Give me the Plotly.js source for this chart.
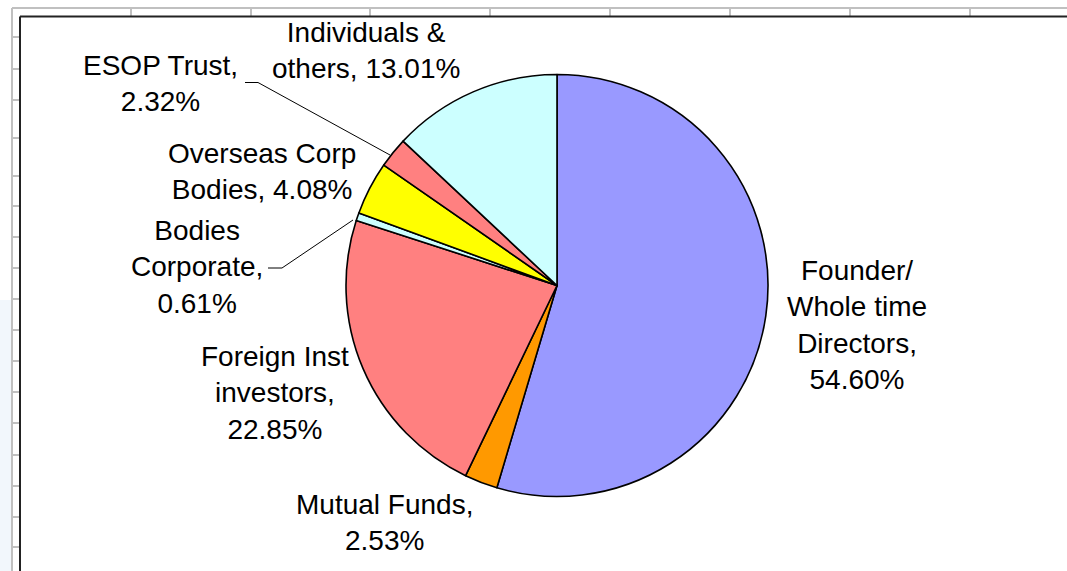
<!DOCTYPE html>
<html>
<head>
<meta charset="utf-8">
<script src="https://cdn.plot.ly/plotly-3.0.1.min.js"></script>
<style>html,body{margin:0;padding:0;background:#fff;}#chart{width:1067px;height:571px;}</style>
</head>
<body>
<div id="chart"></div>
<script>
// ---- data ----
const categories = ["Founder/<br>Whole time<br>Directors", "Mutual Funds", "Foreign Inst<br>investors", "Bodies<br>Corporate", "Overseas Corp<br>Bodies", "ESOP Trust", "Individuals &<br>others"];
const shares = [54.60, 2.53, 22.85, 0.61, 4.08, 2.32, 13.01];
const sliceColors = ["#9999FF", "#FF9900", "#FF8080", "#CCFFFF", "#FFFF00", "#FF8080", "#CCFFFF"];
const labelSeparators = [",<br>", ",<br>", ",<br>", ",<br>", ", ", ",<br>", ", "];

// ---- layout helpers (pixel -> paper) ----
const W = 1067, H = 571;
const px = x => x / W;
const py = y => 1 - y / H;

const cx = 557, cy = 285.5, R = 211;

const labelPos = [
  [857, 324.5], [384, 522], [275, 393], [197, 267], [262, 171.5], [160, 83.5], [366, 50.5]
];

const annotations = categories.map((c, i) => ({
  text: c + labelSeparators[i] + shares[i].toFixed(2) + "%",
  x: px(labelPos[i][0]), y: py(labelPos[i][1]),
  xref: "paper", yref: "paper", xanchor: "center", yanchor: "middle",
  showarrow: false, align: "center",
  font: {family: "Liberation Sans, Arial, sans-serif", size: 28, color: "#000"}
}));

const grey = "#c0c0c0";
const shapes = [];
// spreadsheet grid behind the chart
shapes.push({type: "rect", xref: "paper", yref: "paper", x0: 0, x1: px(12), y0: 0, y1: py(300), fillcolor: "#f2f7fc", line: {width: 0}, layer: "below"});
shapes.push({type: "line", xref: "paper", yref: "paper", x0: px(12), x1: px(12), y0: 0, y1: py(8), line: {color: grey, width: 2}});
shapes.push({type: "line", xref: "paper", yref: "paper", x0: px(12), x1: 1, y0: py(8), y1: py(8), line: {color: grey, width: 2}});
[131, 251, 370, 490, 610, 730, 850, 970].forEach(x => shapes.push({type: "line", xref: "paper", yref: "paper", x0: px(x), x1: px(x), y0: py(8), y1: py(16), line: {color: grey, width: 2}}));
[37, 69, 100, 138, 176, 206, 237, 268, 299, 330, 361, 392, 423, 455, 486, 517, 547].forEach(y => shapes.push({type: "line", xref: "paper", yref: "paper", x0: px(12), x1: px(20), y0: py(y), y1: py(y), line: {color: grey, width: 2}}));
// chart frame
shapes.push({type: "line", xref: "paper", yref: "paper", x0: px(20), x1: 1, y0: py(16.5), y1: py(16.5), line: {color: "#222", width: 2}});
shapes.push({type: "line", xref: "paper", yref: "paper", x0: px(20), x1: px(20), y0: 0, y1: py(16.5), line: {color: "#222", width: 2}});
// leader lines
const leader = (pts) => shapes.push({type: "path", xref: "paper", yref: "paper",
  path: "M " + pts.map(p => px(p[0]) + "," + py(p[1])).join(" L "), line: {color: "#000", width: 1}});
leader([[245, 82.5], [258, 82.5], [390, 155]]);
leader([[268, 268], [282, 268], [353, 220]]);

const trace = {
  type: "pie",
  labels: categories,
  values: shares,
  sort: false,
  direction: "clockwise",
  rotation: 0,
  textinfo: "none",
  hoverinfo: "label+percent",
  marker: {colors: sliceColors, line: {color: "#000", width: 1.6}},
  domain: {x: [px(cx - R), px(cx + R)], y: [py(cy + R), py(cy - R)]},
  showlegend: false
};

Plotly.newPlot("chart", [trace], {
  width: W, height: H,
  margin: {l: 0, r: 0, t: 0, b: 0},
  paper_bgcolor: "#fff",
  showlegend: false,
  annotations: annotations,
  shapes: shapes
}, {displayModeBar: false, staticPlot: true});
</script>
</body>
</html>
